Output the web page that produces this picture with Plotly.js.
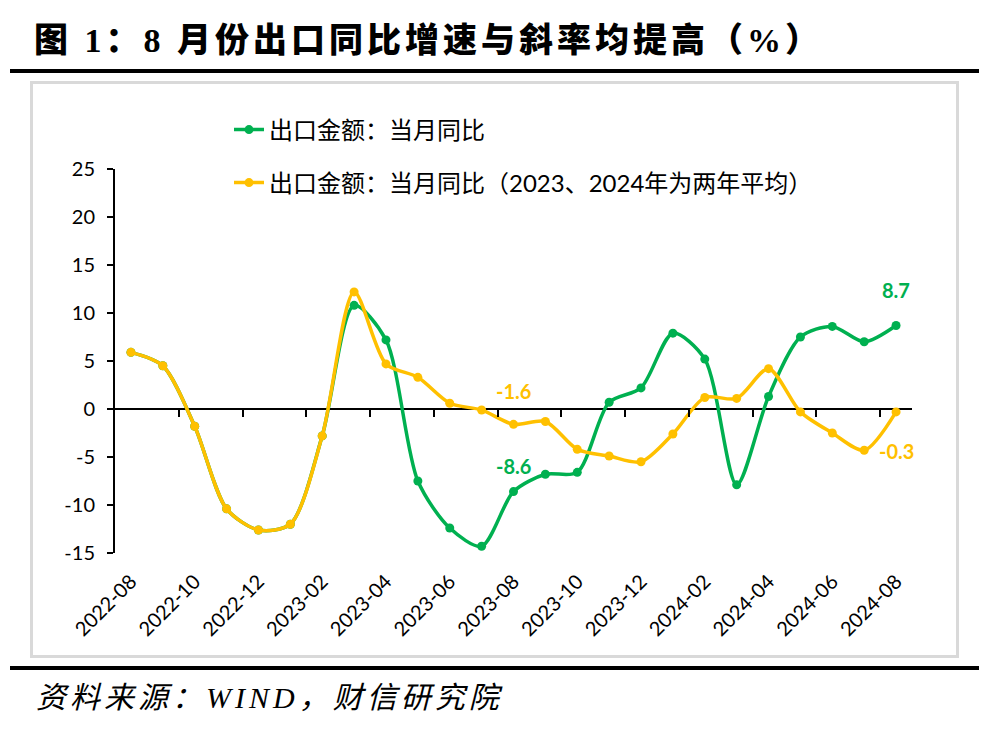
<!DOCTYPE html>
<html>
<head>
<meta charset="utf-8">
<script src="https://cdn.plot.ly/plotly-3.0.1.min.js"></script>
<style>
  html, body { margin:0; padding:0; background:#fff; }
  #page { position:relative; width:1005px; height:729px; overflow:hidden; background:#fff; }
  #title { position:absolute; left:34px; top:18px; font-family:"Liberation Serif","Noto Sans CJK SC",serif; font-weight:900; font-size:34px; letter-spacing:4px; color:#000; white-space:nowrap; line-height:46px; }
  #topline { position:absolute; left:10px; top:69px; width:969px; height:4px; background:#000; }
  #box { position:absolute; left:30px; top:81px; width:923px; height:571px; border:3px solid #D9D9D9; }
  #bottomline { position:absolute; left:10px; top:666px; width:969px; height:4px; background:#000; }
  #footer { position:absolute; left:36px; top:679px; font-family:"Liberation Serif","Noto Sans CJK SC",serif; font-style:italic; font-size:30px; letter-spacing:4px; color:#000; white-space:nowrap; line-height:38px; }
  #chart { position:absolute; left:0; top:0; width:1005px; height:729px; }
</style>
</head>
<body>
<div id="page">
  <div id="title">图 1：8 月份出口同比增速与斜率均提高（%）</div>
  <div id="topline"></div>
  <div id="box"></div>
  <div id="bottomline"></div>
  <div id="footer">资料来源：WIND，财信研究院</div>
  <div id="chart"></div>
</div>
<script>
const months = ["2022-08","2022-09","2022-10","2022-11","2022-12","2023-01","2023-02","2023-03","2023-04","2023-05","2023-06","2023-07","2023-08","2023-09","2023-10","2023-11","2023-12","2024-01","2024-02","2024-03","2024-04","2024-05","2024-06","2024-07","2024-08"];
const exportYoY = [5.9,4.5,-1.8,-10.4,-12.6,-12.0,-2.8,10.8,7.2,-7.5,-12.4,-14.3,-8.6,-6.8,-6.6,0.7,2.2,7.9,5.2,-7.9,1.3,7.5,8.6,7.0,8.7];
const exportYoY2yAvg = [5.9,4.5,-1.8,-10.4,-12.6,-12.0,-2.8,12.2,4.7,3.3,0.6,-0.1,-1.6,-1.3,-4.2,-4.9,-5.5,-2.6,1.2,1.1,4.2,-0.3,-2.5,-4.3,-0.3];
const seriesNames = ["出口金额：当月同比","出口金额：当月同比（2023、2024年为两年平均）"];
const yTicks = [-15,-10,-5,0,5,10,15,20,25];
const yTickText = ["-15","-10","-5","0","5","10","15","20","25"];

const GREEN = "#00B050", YELLOW = "#FFC000";
const idx = months.map((m,i)=>i);
const labelIdx = months.map((m,i)=>i).filter(i=>i%2===0);
const boundaryTicks = months.map((m,i)=>i+1.5).filter((v,i)=>i%2===0 && v < months.length-0.5);

const font = "Lato, 'Noto Sans CJK SC', sans-serif";

const traces = [
  {x:idx, y:exportYoY, name:seriesNames[0], type:"scatter", mode:"lines+markers",
   line:{color:GREEN, width:3.5, shape:"spline", smoothing:0.8}, marker:{color:GREEN, size:9}, legend:"legend", cliponaxis:false},
  {x:idx, y:exportYoY2yAvg, name:seriesNames[1], type:"scatter", mode:"lines+markers",
   line:{color:YELLOW, width:3.5, shape:"spline", smoothing:0.8}, marker:{color:YELLOW, size:9}, legend:"legend2", cliponaxis:false},
  {x:[], y:[], xaxis:"x2", showlegend:false, hoverinfo:"skip"}
];

const L=115, R=912, T=169, B=553, W=1005, H=729;
const px2x = p => (p-L)/(R-L);
const py2y = p => (B-p)/(B-T);

const last = months.length-1, aug23 = months.indexOf("2023-08");
const annotations = [
  {x:last, y:exportYoY[last], text:exportYoY[last].toFixed(1), yshift:35, color:GREEN},
  {x:aug23, y:exportYoY[aug23], text:exportYoY[aug23].toFixed(1), yshift:26, color:GREEN},
  {x:aug23, y:exportYoY2yAvg[aug23], text:exportYoY2yAvg[aug23].toFixed(1), yshift:33, color:YELLOW},
  {x:last, y:exportYoY2yAvg[last], text:exportYoY2yAvg[last].toFixed(1), yshift:-39, color:YELLOW}
].map(a=>({x:a.x, y:a.y, xref:"x", yref:"y", text:"<b>"+a.text+"</b>", showarrow:false, yshift:a.yshift,
  font:{family:font, size:20, color:a.color}}));

const legendFont = {family:font, size:24, color:"#000"};
const layout = {
  width:W, height:H,
  margin:{l:L, r:W-R, t:T, b:H-B, pad:0},
  paper_bgcolor:"rgba(0,0,0,0)", plot_bgcolor:"rgba(0,0,0,0)",
  font:{family:font, size:19, color:"#000"},
  showlegend:true,
  legend:{x:px2x(229), y:py2y(130), xanchor:"left", yanchor:"middle", bgcolor:"rgba(0,0,0,0)", font:legendFont},
  legend2:{x:px2x(229), y:py2y(183), xanchor:"left", yanchor:"middle", bgcolor:"rgba(0,0,0,0)", font:legendFont},
  xaxis:{type:"linear", range:[-0.5, months.length-0.5], tickvals:labelIdx, ticktext:labelIdx.map(i=>months[i]),
    tickangle:-45, showgrid:false, zeroline:false, showline:false, ticks:"", ticklabelstandoff:12,
    tickfont:{family:font, size:20, color:"#000"}},
  xaxis2:{type:"linear", overlaying:"x", anchor:"free", position:15/40, range:[-0.5, months.length-0.5],
    tickvals:boundaryTicks, ticks:"outside", ticklen:7, tickwidth:2, tickcolor:"#000",
    showticklabels:false, showgrid:false, zeroline:false, showline:false},
  yaxis:{range:[-15,25], tickvals:yTicks, ticktext:yTickText, ticks:"outside", ticklen:6, tickwidth:2, tickcolor:"#000",
    showline:true, linecolor:"#000", linewidth:2, showgrid:false,
    zeroline:true, zerolinecolor:"#000", zerolinewidth:2.5, ticklabelstandoff:8,
    tickfont:{family:font, size:20, color:"#000"}},
  annotations:annotations
};

Plotly.newPlot("chart", traces, layout, {displayModeBar:false, staticPlot:true});
</script>
</body>
</html>
